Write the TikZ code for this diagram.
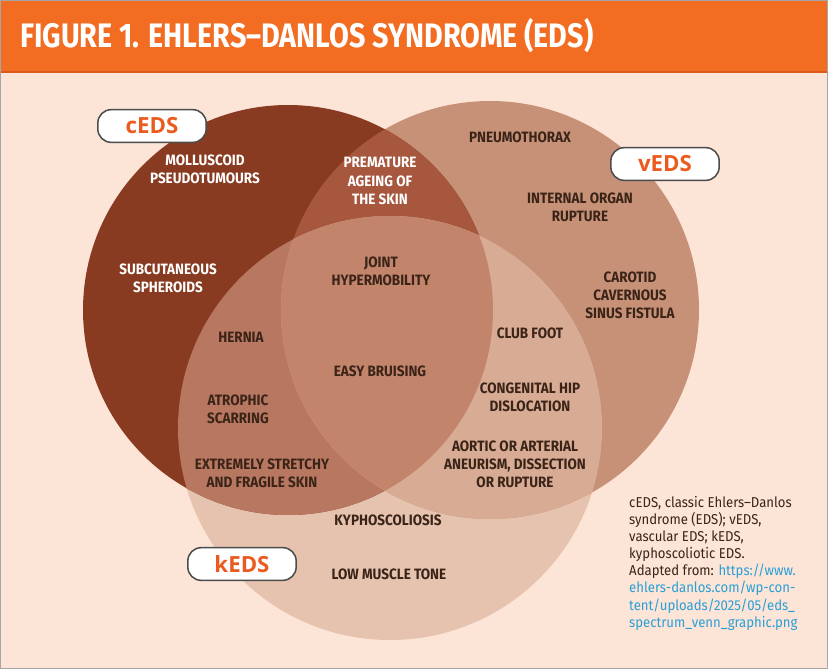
\documentclass[tikz,border=0pt]{standalone}
\usepackage{fontspec}
\usepackage{xcolor}
\usepackage{tikz}
\setmainfont{Fira Sans}
\newfontfamily\condfont[FakeStretch=0.9]{Fira Sans}
\newfontfamily\notefont[FakeStretch=0.92]{Fira Sans}
\newfontfamily\titlefont[FakeStretch=0.845]{Fira Sans}
\newfontfamily\tagfont{Open Sans}

\definecolor{bgpeach}{HTML}{FCE4D6}
\definecolor{hdrorange}{HTML}{F26C22}
\definecolor{hdrline}{HTML}{D95A1B}
\definecolor{ccol}{HTML}{883B20}
\definecolor{vcol}{HTML}{C79178}
\definecolor{kcol}{HTML}{E6C3AF}
\definecolor{cvcol}{HTML}{A6573E}
\definecolor{ckcol}{HTML}{B87760}
\definecolor{vkcol}{HTML}{D8AB95}
\definecolor{cvkcol}{HTML}{C3846C}
\definecolor{tagorange}{HTML}{EB5A1E}
\definecolor{darktext}{HTML}{3A2418}
\definecolor{linkblue}{HTML}{2A9FD6}

\tikzset{
	sign/.style={font=\condfont\bfseries\fontsize{12.8}{15.5}\selectfont, align=center, text=darktext, inner sep=0pt},
	signlight/.style={sign, text=white},
	tagbox/.style={draw=gray!60!black, line width=1.3pt, fill=white, rounded corners=0.4cm, minimum width=3.25cm, minimum height=0.98cm, inner sep=0pt, text=tagorange, font=\tagfont\bfseries\fontsize{19}{19}\selectfont}
}

\begin{document}
\begin{tikzpicture}[x=0.03cm, y=-0.03cm]
		\useasboundingbox (0,0) rectangle (828,669);
		\fill[bgpeach] (0,0) rectangle (828,669);
		\fill[hdrorange] (0,0) rectangle (828,72);
		\draw[hdrline, line width=1.2pt] (0,72) -- (828,72);
		\node[anchor=west, text=white, font=\titlefont\bfseries\fontsize{29}{29}\selectfont, inner sep=0pt] (title) at (20,36) {FIGURE 1. EHLERS–DANLOS SYNDROME (EDS)};

		\coordinate (cc) at (288,310);
		\coordinate (vc) at (490,310);
		\coordinate (kc) at (390,428);

		\fill[kcol] (kc) circle (212);
		\fill[vcol] (vc) circle (209);
		\fill[ccol] (cc) circle (205);
		\begin{scope}
			\clip (cc) circle (205);
			\fill[cvcol] (vc) circle (209);
			\fill[ckcol] (kc) circle (212);
		\end{scope}
		\begin{scope}
			\clip (vc) circle (209);
			\fill[vkcol] (kc) circle (212);
			\clip (cc) circle (205);
			\fill[cvkcol] (kc) circle (212);
		\end{scope}

		\node[tagbox] (ctag) at (152,126) {cEDS};
		\node[tagbox] (vtag) at (665,164) {vEDS};
		\node[tagbox] (ktag) at (242,564) {kEDS};

		\node[signlight] (mollus) at (205,169) {MOLLUSCOID\\PSEUDOTUMOURS};
		\node[signlight] (subcut) at (168,278) {SUBCUTANEOUS\\SPHEROIDS};
		\node[signlight] (ageing) at (380,181) {PREMATURE\\AGEING OF\\THE SKIN};
		\node[sign] (pneumo) at (520,137) {PNEUMOTHORAX};
		\node[sign] (organ) at (580,207) {INTERNAL ORGAN\\RUPTURE};
		\node[sign] (carotid) at (630,295) {CAROTID\\CAVERNOUS\\SINUS FISTULA};
		\node[sign] (joint) at (381,271) {JOINT\\HYPERMOBILITY};
		\node[sign] (hernia) at (241,337) {HERNIA};
		\node[sign] (bruise) at (380,371) {EASY BRUISING};
		\node[sign] (club) at (530,333) {CLUB FOOT};
		\node[sign] (atroph) at (238,409) {ATROPHIC\\SCARRING};
		\node[sign] (hip) at (530,397) {CONGENITAL HIP\\DISLOCATION};
		\node[sign] (stretch) at (262,473) {EXTREMELY STRETCHY\\AND FRAGILE SKIN};
		\node[sign] (aortic) at (515,464) {AORTIC OR ARTERIAL\\ANEURISM, DISSECTION\\OR RUPTURE};
		\node[sign] (kypho) at (388,520) {KYPHOSCOLIOSIS};
		\node[sign] (tone) at (389,574) {LOW MUSCLE TONE};

		\node[anchor=north west, align=left, inner sep=0pt, text=darktext, font=\notefont\fontsize{12.2}{14.6}\selectfont] (note) at (629,496) {cEDS, classic Ehlers–Danlos\\syndrome (EDS); vEDS,\\vascular EDS; kEDS,\\kyphoscoliotic EDS.\\Adapted from: \textcolor{linkblue}{https://www.}\\\textcolor{linkblue}{ehlers-danlos.com/wp-con-}\\\textcolor{linkblue}{tent/uploads/2025/05/eds\_}\\\textcolor{linkblue}{spectrum\_venn\_graphic.png}};

		\draw[gray!70, line width=1.2pt] (0,0) rectangle (828,669);
	\end{tikzpicture}
\end{document}
